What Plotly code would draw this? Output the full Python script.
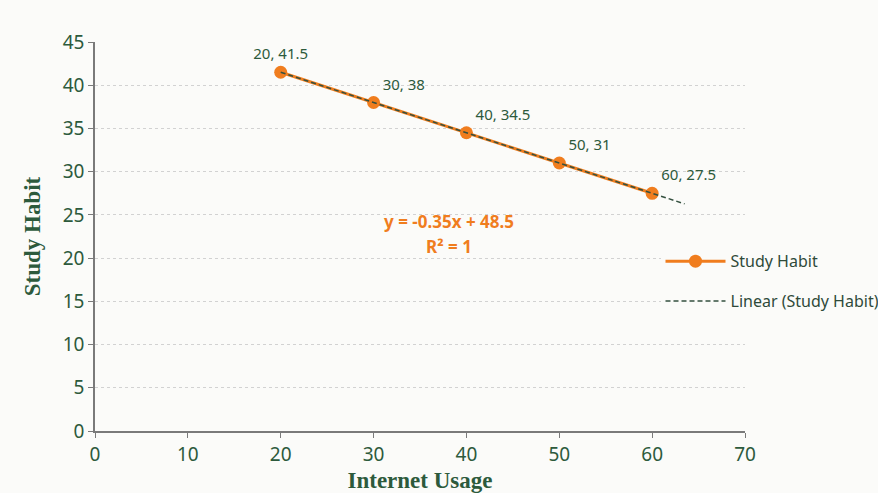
import numpy as np
import plotly.graph_objects as go

# Survey data: internet usage vs. study habit score
internet_usage = [20, 30, 40, 50, 60]
study_habit = [41.5, 38, 34.5, 31, 27.5]
label_positions = ["top center", "top right", "top right", "top right", "top right"]

x_ticks = [0, 10, 20, 30, 40, 50, 60, 70]
y_ticks = [0, 5, 10, 15, 20, 25, 30, 35, 40, 45]

# Linear trendline fitted to the series, projected slightly forward
slope, intercept = np.polyfit(internet_usage, study_habit, 1)
pred = np.polyval([slope, intercept], internet_usage)
r2 = 1 - np.sum((np.array(study_habit) - pred) ** 2) / np.sum((np.array(study_habit) - np.mean(study_habit)) ** 2)
trend_x = [internet_usage[0], internet_usage[-1] + 3.5]
trend_y = [slope * v + intercept for v in trend_x]

ORANGE = "#f07d1e"
GREEN = "#2d5a3c"
BG = "#fbfbf9"

fig = go.Figure()

fig.add_trace(go.Scatter(
    x=internet_usage, y=study_habit,
    mode="lines+markers+text",
    name="Study Habit",
    legendgroup="a",
    line=dict(color=ORANGE, width=3),
    marker=dict(color=ORANGE, size=13),
    text=[f"{a:g}, {b:g}" for a, b in zip(internet_usage, study_habit)],
    textposition=label_positions,
    textfont=dict(family="Noto Sans", size=15, color=GREEN),
    cliponaxis=False,
))

fig.add_trace(go.Scatter(
    x=trend_x, y=trend_y,
    mode="lines",
    name="Linear (Study Habit)",
    legendgroup="b",
    line=dict(color="#34503f", width=1.5, dash="5px,3px"),
))

# Trendline equation and fit quality
eq_font = dict(family="Noto Sans", size=17, color=ORANGE)
fig.add_annotation(
    x=38.1, y=24.2, xref="x", yref="y",
    text=f"<b>y = {slope:.2f}x + {intercept:g}</b>",
    showarrow=False, font=eq_font, yanchor="middle",
)
fig.add_annotation(
    x=38.1, y=21.4, xref="x", yref="y",
    text=f"<b>R² = {r2:.0f}</b>",
    showarrow=False, font=eq_font, yanchor="middle",
)

fig.update_layout(
    width=878, height=493,
    margin=dict(l=95, r=133, t=42, b=62, autoexpand=False),
    paper_bgcolor=BG, plot_bgcolor=BG,
    showlegend=True,
    legend=dict(
        x=0.87, y=0.385, xanchor="left", yanchor="middle",
        bgcolor=BG,
        font=dict(family="Noto Sans", size=16, color="#2f4a3a"),
        tracegroupgap=16,
        itemwidth=60,
    ),
    xaxis=dict(
        range=[0, 70], tickvals=x_ticks,
        showgrid=False, zeroline=False,
        showline=True, linecolor="#7a7a7a", linewidth=1.5,
        ticks="outside", ticklen=5, tickcolor="#7a7a7a",
        tickfont=dict(family="Noto Sans", size=19, color=GREEN),
        automargin=False,
        title=dict(text="<b>Internet Usage</b>",
                   font=dict(family="Liberation Serif", size=23, color=GREEN),
                   standoff=16),
    ),
    yaxis=dict(
        range=[0, 45], tickvals=y_ticks,
        showgrid=True, gridcolor="#d2d2d2", griddash="dot", gridwidth=1,
        zeroline=False,
        showline=True, linecolor="#7a7a7a", linewidth=1.5,
        ticks="outside", ticklen=5, tickcolor="#7a7a7a",
        tickfont=dict(family="Noto Sans", size=19, color=GREEN),
        automargin=False,
        title=dict(text="<b>Study Habit</b>",
                   font=dict(family="Liberation Serif", size=23, color=GREEN),
                   standoff=16),
    ),
)

fig.write_html("out.html")
